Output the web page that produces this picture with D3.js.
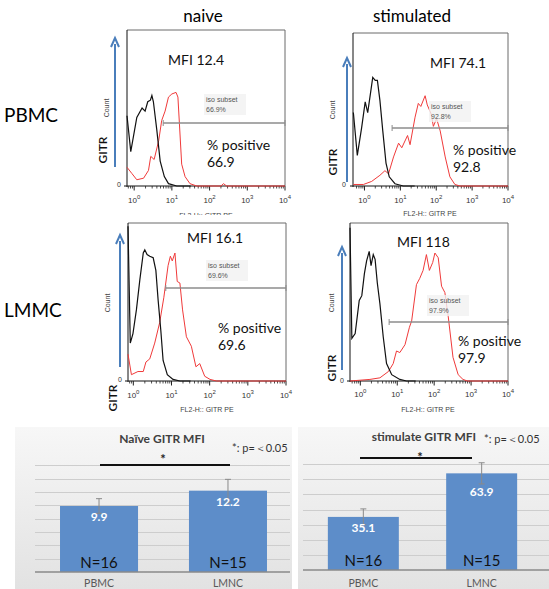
<!DOCTYPE html>
<html>
<head>
<meta charset="utf-8">
<script src="https://cdn.jsdelivr.net/npm/d3@7"></script>
<style>
  body { margin: 0; background: #fff; }
  svg { display: block; }
</style>
</head>
<body>
<svg id="fig" width="549" height="589"></svg>
<script>
'use strict';

// histogram traces: [log10 FL2-H (GITR PE), % of max count]
var pbmcNaiveIso  = [[-0.19,45],[-0.09,22],[0.07,44],[0.21,50],[0.29,48],[0.36,54],[0.43,55],[0.47,58],[0.51,54],[0.6,36],[0.69,16],[0.8,6],[0.91,1.5],[1.13,0],[1.5,0]];
var pbmcNaiveGitr = [[-0.19,12],[-0.06,8],[0.07,4],[0.25,5],[0.38,10],[0.44,19],[0.53,17],[0.65,29],[0.73,42],[0.82,48],[0.91,57],[1.0,59],[1.11,60],[1.16,57],[1.2,40],[1.26,14],[1.35,6],[1.48,1.5],[1.66,0],[2.3,0],[2.37,1.5],[2.45,0],[4,0]];
var pbmcStimIso   = [[-0.31,48],[-0.2,20],[-0.08,38],[0.02,55],[0.09,48],[0.17,61],[0.23,71],[0.3,69],[0.36,69],[0.43,56],[0.51,36],[0.6,15],[0.69,6],[0.85,1.5],[1.08,0],[1.4,0]];
var pbmcStimGitr  = [[-0.31,1],[-0.03,1],[0.2,3],[0.43,7],[0.57,10],[0.67,8],[0.81,19],[0.95,28],[1.04,25],[1.2,33],[1.27,27],[1.41,45],[1.5,54],[1.57,52],[1.69,59],[1.75,53],[1.86,47],[1.92,39],[2.01,44],[2.11,36],[2.25,19],[2.38,6],[2.52,1],[2.66,0],[4,0]];
var lmmcNaiveIso  = [[-0.14,98],[-0.08,24],[-0.01,30],[0.08,45],[0.17,64],[0.26,81],[0.3,83],[0.36,80],[0.43,79],[0.52,78],[0.59,70],[0.65,51],[0.72,32],[0.78,13],[0.89,4],[1.04,1],[1.22,0],[1.5,0]];
var lmmcNaiveGitr = [[-0.14,17],[-0.05,4],[0.12,6],[0.26,6],[0.33,12],[0.43,14],[0.56,24],[0.69,37],[0.8,53],[0.91,73],[0.97,79],[1.02,76],[1.09,81],[1.15,63],[1.22,62],[1.29,45],[1.39,28],[1.52,22],[1.64,9],[1.74,11],[1.87,3],[2.01,1],[2.18,0],[4,0]];
var lmmcStimIso   = [[-0.28,97],[-0.23,27],[-0.14,30],[-0.03,51],[0.04,54],[0.11,68],[0.17,76],[0.24,82],[0.29,73],[0.35,80],[0.4,77],[0.46,62],[0.53,49],[0.62,28],[0.71,11],[0.85,4],[1.07,1],[1.25,0],[1.5,0]];
var lmmcStimGitr  = [[-0.28,0],[0.26,1],[0.53,2],[0.76,6],[0.89,11],[0.98,19],[1.07,18],[1.21,23],[1.33,34],[1.39,38],[1.52,61],[1.61,65],[1.7,70],[1.79,80],[1.87,70],[1.96,75],[2.02,81],[2.11,78],[2.2,60],[2.29,56],[2.38,41],[2.51,15],[2.65,4],[2.78,1],[2.9,0],[4,0]];

var decades     = [0, 1, 2, 3, 4];
var mfiLabels   = ['MFI 12.4', 'MFI 74.1', 'MFI 16.1', 'MFI 118'];
var isoPercent  = ['66.9%', '92.8%', '69.6%', '97.9%'];
var posPercent  = ['66.9', '92.8', '69.6', '97.9'];
var gateStart   = [0.77, 0.77, 0.85, 0.78];   // log10 start of "iso subset" gate

// bar charts
var barCats   = ['PBMC', 'LMNC'];
var naiveMfi  = [9.9, 12.2];
var naiveErr  = [1.1, 1.7];
var stimMfi   = [35.1, 63.9];
var stimErr   = [5.3, 7.0];
var sampleN   = ['N=16', 'N=15'];

var svg = d3.select('#fig');
var CAL = 'Lato, "Open Sans", sans-serif';
var ARI = '"Liberation Sans", Arial, sans-serif';

var defs = svg.append('defs');
var grad = defs.append('linearGradient').attr('id', 'bg').attr('x1', 0).attr('y1', 0).attr('x2', 0).attr('y2', 1);
grad.append('stop').attr('offset', '0%').attr('stop-color', '#f7f7f7');
grad.append('stop').attr('offset', '100%').attr('stop-color', '#e2e2e2');
defs.append('clipPath').attr('id', 'clipTop').append('rect')
  .attr('x', 0).attr('y', 0).attr('width', 300).attr('height', 215);

// column / row titles
svg.append('text').attr('x', 203).attr('y', 22).attr('text-anchor', 'middle')
  .style('font', '17px ' + CAL).text('naive');
svg.append('text').attr('x', 412).attr('y', 22).attr('text-anchor', 'middle')
  .style('font', '17px ' + CAL).text('stimulated');
svg.append('text').attr('x', 4).attr('y', 122).style('font', '19px ' + CAL).text('PBMC');
svg.append('text').attr('x', 4).attr('y', 317).style('font', '19px ' + CAL).text('LMMC');

var panels = [
  {x0: 127, x1: 285, yt: 30,  yb: 186, lo: -0.19, iso: pbmcNaiveIso, gitr: pbmcNaiveGitr,
   arrowX: 115, arrowTop: 38, arrowBot: 167, count: [107, 108], gitrLbl: [103, 150], zero: [121, 187],
   mfi: [168, 65], isoTxt: [206, 102], gateY: 123, pos: [207, 150], tickY: 203, fl2: [206, 218], clip: true},
  {x0: 353, x1: 508, yt: 33,  yb: 186, lo: -0.32, iso: pbmcStimIso, gitr: pbmcStimGitr,
   arrowX: 347, arrowTop: 58, arrowBot: 182, count: [333, 110], gitrLbl: [333, 162], zero: [346, 187],
   mfi: [430, 68], isoTxt: [431, 109], gateY: 128, pos: [453, 155], tickY: 203, fl2: [430, 216]},
  {x0: 128, x1: 286, yt: 223, yb: 381, lo: -0.14, iso: lmmcNaiveIso, gitr: lmmcNaiveGitr,
   arrowX: 120, arrowTop: 235, arrowBot: 367, count: [108, 303], gitrLbl: [113, 398], zero: [122, 382],
   mfi: [187, 243], isoTxt: [208, 268], gateY: 288, pos: [218, 333], tickY: 398, fl2: [207, 412]},
  {x0: 350, x1: 508, yt: 223, yb: 381, lo: -0.28, iso: lmmcStimIso, gitr: lmmcStimGitr,
   arrowX: 342, arrowTop: 247, arrowBot: 370, count: [332, 303], gitrLbl: [332, 368], zero: [344, 383],
   mfi: [397, 247], isoTxt: [429, 303], gateY: 322, pos: [458, 346], tickY: 397, fl2: [428, 412]}
];

function histPanel(p, i) {
  var x = d3.scaleLog().domain([Math.pow(10, p.lo), 1e4]).range([p.x0, p.x1]);
  var y = d3.scaleLinear().domain([0, 100]).range([p.yb, p.yt]);
  var g = svg.append('g');
  if (p.clip) g.attr('clip-path', 'url(#clipTop)');

  // frame
  g.append('path')
    .attr('d', 'M' + p.x0 + ',' + p.yt + 'H' + p.x1 + 'V' + p.yb)
    .attr('fill', 'none').attr('stroke', '#6a6a6a').attr('stroke-width', 1);
  g.append('line').attr('x1', p.x0).attr('x2', p.x0).attr('y1', p.yt).attr('y2', p.yb + 1)
    .attr('stroke', '#111').attr('stroke-width', 1);
  g.append('line').attr('x1', p.x0 - 3).attr('x2', p.x1).attr('y1', p.yb).attr('y2', p.yb)
    .attr('stroke', '#111').attr('stroke-width', 1);

  // log ticks
  var minor = [];
  decades.forEach(function(e) {
    if (e < 4) d3.range(2, 10).forEach(function(k) { minor.push(k * Math.pow(10, e)); });
  });
  [0.6, 0.7, 0.8, 0.9].forEach(function(v) { if (v >= x.domain()[0]) minor.push(v); });
  g.selectAll('.mt').data(minor).enter().append('line')
    .attr('x1', x).attr('x2', x).attr('y1', p.yb).attr('y2', p.yb + 2.5)
    .attr('stroke', '#222').attr('stroke-width', 0.8);
  g.selectAll('.Mt').data(decades).enter().append('line')
    .attr('x1', function(e) { return x(Math.pow(10, e)); })
    .attr('x2', function(e) { return x(Math.pow(10, e)); })
    .attr('y1', p.yb).attr('y2', p.yb + 4.5)
    .attr('stroke', '#222').attr('stroke-width', 1);
  var tl = g.selectAll('.tl').data(decades).enter().append('text')
    .attr('x', function(e) { return x(Math.pow(10, e)); })
    .attr('y', p.tickY).attr('text-anchor', 'middle')
    .style('font', '8px ' + ARI).style('fill', '#333');
  tl.append('tspan').text('10');
  tl.append('tspan').attr('dy', -4).style('font-size', '6px').text(function(e) { return e; });

  g.append('text').attr('x', p.zero[0]).attr('y', p.zero[1]).attr('text-anchor', 'end')
    .style('font', '7px ' + ARI).style('fill', '#333').text('0');
  g.append('text').attr('transform', 'translate(' + p.count[0] + ',' + p.count[1] + ') rotate(-90)')
    .attr('text-anchor', 'middle').attr('dy', '0.35em')
    .style('font', '7px ' + ARI).style('fill', '#444').text('Count');
  g.append('text').attr('x', p.fl2[0]).attr('y', p.fl2[1]).attr('text-anchor', 'middle')
    .style('font', '7px ' + ARI).style('fill', '#444').text('FL2-H:: GITR PE');

  // traces
  var line = d3.line()
    .x(function(d) { return x(Math.pow(10, d[0])); })
    .y(function(d) { return y(d[1]); });
  g.append('path').datum(p.gitr).attr('d', line)
    .attr('fill', 'none').attr('stroke', '#f03a3a').attr('stroke-width', 1);
  g.append('path').datum(p.iso).attr('d', line)
    .attr('fill', 'none').attr('stroke', '#111').attr('stroke-width', 1.2);

  // gate
  var gx0 = x(Math.pow(10, gateStart[i])), gx1 = x(1e4);
  g.append('line').attr('x1', gx0).attr('x2', gx1).attr('y1', p.gateY).attr('y2', p.gateY)
    .attr('stroke', '#8c8c8c').attr('stroke-width', 1.3);
  [gx0, gx1].forEach(function(v) {
    g.append('line').attr('x1', v).attr('x2', v).attr('y1', p.gateY - 3).attr('y2', p.gateY + 3)
      .attr('stroke', '#8c8c8c').attr('stroke-width', 1);
  });
  g.append('rect').attr('x', p.isoTxt[0] - 2).attr('y', p.isoTxt[1] - 8)
    .attr('width', 42).attr('height', 21).attr('fill', '#f1f1f1').attr('opacity', 0.8);
  g.append('text').attr('x', p.isoTxt[0]).attr('y', p.isoTxt[1])
    .style('font', '7px ' + ARI).style('fill', '#555').text('iso subset');
  g.append('text').attr('x', p.isoTxt[0]).attr('y', p.isoTxt[1] + 10)
    .style('font', '7px ' + ARI).style('fill', '#555').text(isoPercent[i]);

  // annotations
  g.append('text').attr('x', p.mfi[0]).attr('y', p.mfi[1])
    .style('font', '14px ' + CAL).style('fill', '#111').text(mfiLabels[i]);
  g.append('text').attr('x', p.pos[0]).attr('y', p.pos[1])
    .style('font', '14px ' + CAL).style('fill', '#111').text('% positive');
  g.append('text').attr('x', p.pos[0]).attr('y', p.pos[1] + 17)
    .style('font', '14px ' + CAL).style('fill', '#111').text(posPercent[i]);

  // GITR arrow
  g.append('line').attr('x1', p.arrowX).attr('x2', p.arrowX)
    .attr('y1', p.arrowBot).attr('y2', p.arrowTop + 6)
    .attr('stroke', '#4a7ebb').attr('stroke-width', 2);
  g.append('path')
    .attr('d', 'M' + (p.arrowX - 4) + ',' + (p.arrowTop + 9) + 'L' + p.arrowX + ',' + p.arrowTop +
               'L' + (p.arrowX + 4) + ',' + (p.arrowTop + 9))
    .attr('fill', 'none').attr('stroke', '#4a7ebb').attr('stroke-width', 2);
  g.append('text').attr('transform', 'translate(' + p.gitrLbl[0] + ',' + p.gitrLbl[1] + ') rotate(-90)')
    .attr('text-anchor', 'middle').attr('dy', '0.35em')
    .style('font', '600 12px ' + CAL).style('fill', '#111').text('GITR');
}

panels.forEach(histPanel);

// bar charts
var bars = [
  {bx0: 15, bx1: 292, range: [35, 292], pi: 0.395, po: 0.194, grid: [35, 290], base: 572, max: 18, top: 452, nt: 9,
   vals: naiveMfi, errs: naiveErr, labelDy: [15, 15], title: 'Naïve GITR MFI', titleX: 162, titleY: 443,
   star: [163, 464], sig: [100, 230, 465], p: [232, 452], catY: 587},
  {bx0: 298, bx1: 549, range: [303, 542], pi: 0.4, po: 0.21, grid: [303, 549], base: 570, max: 80, top: 449, nt: 8,
   vals: stimMfi, errs: stimErr, labelDy: [15, 23], title: 'stimulate GITR MFI', titleX: 424, titleY: 441,
   star: [420, 462], sig: [360, 472, 458], p: [484, 443], catY: 587}
];

function barPanel(b) {
  var g = svg.append('g');
  g.append('rect').attr('x', b.bx0).attr('y', 427).attr('width', b.bx1 - b.bx0).attr('height', 162)
    .attr('fill', 'url(#bg)');
  var x = d3.scaleBand().domain(barCats).range(b.range).paddingInner(b.pi).paddingOuter(b.po);
  var y = d3.scaleLinear().domain([0, b.max]).range([b.base, b.top]);

  g.selectAll('.grid').data(y.ticks(b.nt).filter(function(v) { return v > 0 && v < b.max; }))
    .enter().append('line')
    .attr('x1', b.grid[0]).attr('x2', b.grid[1])
    .attr('y1', function(v) { return Math.round(y(v)) + 0.5; })
    .attr('y2', function(v) { return Math.round(y(v)) + 0.5; })
    .attr('stroke', '#cdcdcd').attr('stroke-width', 1);

  g.selectAll('.bar').data(b.vals).enter().append('rect')
    .attr('x', function(d, i) { return x(barCats[i]); })
    .attr('y', function(d) { return y(d); })
    .attr('width', x.bandwidth())
    .attr('height', function(d) { return y(0) - y(d); })
    .attr('fill', '#5d8dc9');

  g.append('line').attr('x1', b.grid[0]).attr('x2', b.grid[1]).attr('y1', b.base).attr('y2', b.base)
    .attr('stroke', '#8a8a8a').attr('stroke-width', 1.5);

  b.vals.forEach(function(v, i) {
    var cx = x(barCats[i]) + x.bandwidth() / 2;
    var e = b.errs[i];
    g.append('line').attr('x1', cx).attr('x2', cx).attr('y1', y(v - e)).attr('y2', y(v + e))
      .attr('stroke', '#8a8a8a').attr('stroke-width', 1);
    [v - e, v + e].forEach(function(t) {
      g.append('line').attr('x1', cx - 3).attr('x2', cx + 3).attr('y1', y(t)).attr('y2', y(t))
        .attr('stroke', '#8a8a8a').attr('stroke-width', 1);
    });
    g.append('text').attr('x', cx).attr('y', y(v) + b.labelDy[i]).attr('text-anchor', 'middle')
      .style('font', 'bold 12px ' + CAL).style('fill', '#fff').text(v.toFixed(1));
    g.append('text').attr('x', cx).attr('y', b.base - 4).attr('text-anchor', 'middle')
      .style('font', '15px ' + CAL).style('fill', '#111').text(sampleN[i]);
    g.append('text').attr('x', cx).attr('y', b.catY).attr('text-anchor', 'middle')
      .style('font', '10.5px ' + CAL).style('fill', '#595959').text(barCats[i]);
  });

  g.append('text').attr('x', b.titleX).attr('y', b.titleY).attr('text-anchor', 'middle')
    .style('font', 'bold 12px ' + CAL).style('fill', '#404040').text(b.title);
  g.append('text').attr('x', b.star[0]).attr('y', b.star[1]).attr('text-anchor', 'middle')
    .style('font', 'bold 13px ' + CAL).style('fill', '#222').text('*');
  g.append('line').attr('x1', b.sig[0]).attr('x2', b.sig[1]).attr('y1', b.sig[2]).attr('y2', b.sig[2])
    .attr('stroke', '#111').attr('stroke-width', 2);
  g.append('text').attr('x', b.p[0]).attr('y', b.p[1])
    .style('font', '11px ' + CAL).style('fill', '#333').text('*: p=＜0.05');
}

bars.forEach(barPanel);
</script>
</body>
</html>
